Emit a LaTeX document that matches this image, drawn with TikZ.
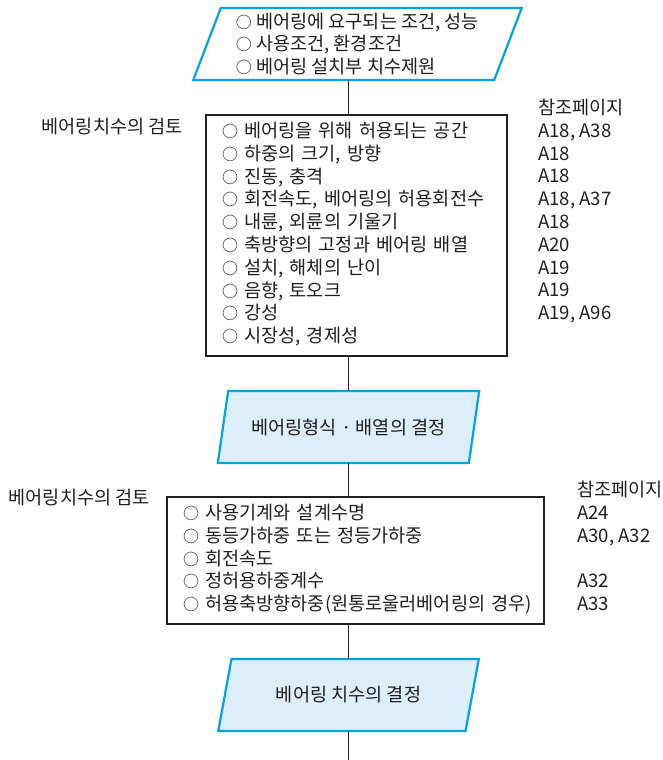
\documentclass[tikz,border=0pt]{standalone}
\usepackage{fontspec}
\setmainfont{Noto Sans CJK KR}
\usetikzlibrary{positioning, calc, shapes.geometric}
\definecolor{pblue}{RGB}{0,164,228}
\definecolor{pfill}{RGB}{221,238,251}
\definecolor{ink}{RGB}{35,31,32}
\newcommand{\mk}{{\fontsize{16}{16}\selectfont ○}\ }
\newcommand{\lsize}{\fontsize{18.6}{22.8}\selectfont}
\tikzstyle{Para} = [
trapezium,
trapezium left angle=70,
trapezium right angle=110,
trapezium stretches=true,
draw=pblue, line width=2.2pt,
outer sep=0pt, minimum height=72pt,
font=\lsize, text=ink]
\tikzstyle{CheckBox} = [
draw=ink, line width=1.5pt,
align=left, inner xsep=16pt, inner ysep=6.5pt,
outer sep=0pt, font=\lsize, text=ink]
\tikzstyle{RefList} = [
align=left, inner sep=0pt, anchor=south west,
font=\lsize, text=ink]
\tikzstyle{SideNote} = [inner sep=0pt, anchor=east, font=\lsize, text=ink]
\tikzstyle{Spine} = [draw=ink, line width=1pt]

\begin{document}
\begin{tikzpicture}[x=1pt, y=1pt]
    \useasboundingbox (0,0) rectangle (662,-760);

    \node [Para, fill=white, align=left, minimum width=329pt] (1) at (357.5,-44)
        {\mk 베어링에 요구되는 조건, 성능\\\mk 사용조건, 환경조건\\\mk 베어링 설치부 치수제원};
    \node [CheckBox, text width=269pt, below=35pt of 1, xshift=-1pt] (2)
        {\mk 베어링을 위해 허용되는 공간\strut\\
         \mk 하중의 크기, 방향\strut\\
         \mk 진동, 충격\strut\\
         \mk 회전속도, 베어링의 허용회전수\strut\\
         \mk 내륜, 외륜의 기울기\strut\\
         \mk 축방향의 고정과 베어링 배열\strut\\
         \mk 설치, 해체의 난이\strut\\
         \mk 음향, 토오크\strut\\
         \mk 강성\strut\\
         \mk 시장성, 경제성\strut};
    \node [Para, fill=pfill, minimum width=262pt, below=35pt of 2, xshift=-8pt] (3)
        {베어링형식 · 배열의 결정};
    \node [CheckBox, text width=345pt, below=34pt of 3, xshift=7pt] (4)
        {\mk 사용기계와 설계수명\strut\\
         \mk 동등가하중 또는 정등가하중\strut\\
         \mk 회전속도\strut\\
         \mk 정허용하중계수\strut\\
         \mbox{\mk 허용축방향하중(원통로울러베어링의 경우)}\strut};
    \node [Para, fill=pfill, minimum width=261pt, below=35pt of 4, xshift=-7pt] (5)
        {베어링 치수의 결정};

    \node [SideNote] (6) at ([xshift=-23pt, yshift=-12pt]2.north west) {베어링치수의 검토};
    \node [SideNote] (7) at ([xshift=-17pt, yshift=-1pt]4.north west) {베어링치수의 검토};
    \node [RefList] (8) at ([xshift=31pt, yshift=6.5pt]2.south east)
        {참조페이지\strut\\A18, A38\strut\\A18\strut\\A18\strut\\A18, A37\strut\\A18\strut\\
         A20\strut\\A19\strut\\A19\strut\\A19, A96\strut\\\strut};
    \node [RefList] (9) at ([xshift=33pt, yshift=6.5pt]4.south east)
        {참조페이지\strut\\A24\strut\\A30, A32\strut\\\strut\\A32\strut\\A33\strut};
    \coordinate (end) at ([yshift=-29pt]5.south);

    \draw[Spine] (3.north |- 1.south) -- (3.north |- 2.north);
    \draw[Spine] (3.north |- 2.south) -- (3.north);
    \draw[Spine] (3.south) -- (3.south |- 4.north);
    \draw[Spine] (5.north |- 4.south) -- (5.north);
    \draw[Spine] (5.south) -- (end);
\end{tikzpicture}
\end{document}
